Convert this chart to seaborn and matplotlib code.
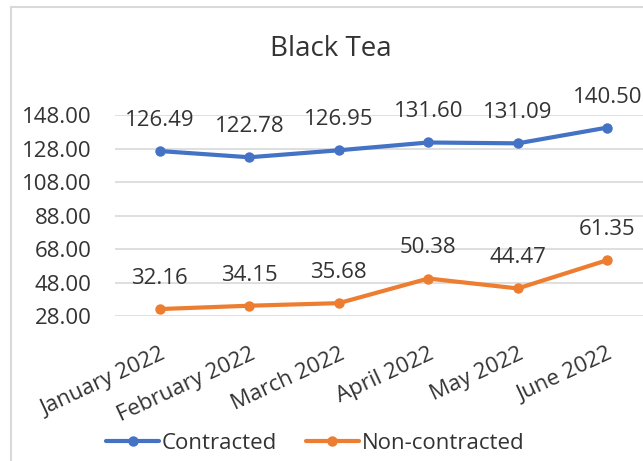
import matplotlib
matplotlib.use("Agg")
import matplotlib.pyplot as plt
import seaborn as sns
import pandas as pd
from matplotlib.patches import Rectangle

# Monthly black tea prices
months = ["January 2022", "February 2022", "March 2022",
          "April 2022", "May 2022", "June 2022"]
contracted = [126.49, 122.78, 126.95, 131.60, 131.09, 140.50]
non_contracted = [32.16, 34.15, 35.68, 50.38, 44.47, 61.35]
series_names = ["Contracted", "Non-contracted"]
y_ticks = [28, 48, 68, 88, 108, 128, 148]

BLUE = "#4472C4"
ORANGE = "#ED7D31"
TEXT = "#333333"
GRID = "#D9D9D9"

df = pd.DataFrame({
    "Month": months * 2,
    "Price": contracted + non_contracted,
    "Type": [series_names[0]] * len(months) + [series_names[1]] * len(months),
})

sns.set_theme(style="white")
plt.rcParams["font.family"] = ["Open Sans", "DejaVu Sans"]
plt.rcParams["text.color"] = TEXT

fig = plt.figure(figsize=(6.43, 4.61), dpi=100)
ax = fig.add_axes([0.179, 0.3145, 0.835, 0.436])

sns.lineplot(data=df, x="Month", y="Price", hue="Type",
             palette=[BLUE, ORANGE], marker="o", markersize=7.5,
             markeredgewidth=0, linewidth=3, sort=False, ax=ax)

# value labels above each point
for values in (contracted, non_contracted):
    for i, v in enumerate(values):
        ax.annotate(f"{v:.2f}", (i, v), xytext=(0, 22),
                    textcoords="offset points", ha="center", va="center",
                    fontsize=16, color=TEXT)

ax.set_xlim(-0.5, len(months) - 0.5)
ax.set_ylim(y_ticks[0], y_ticks[-1])
ax.set_yticks(y_ticks)
ax.set_yticklabels([f"{t:.2f}" for t in y_ticks])
ax.set_xlabel("")
ax.set_ylabel("")

ax.yaxis.grid(True, color=GRID, linewidth=1.2)
ax.set_axisbelow(True)
for s in ax.spines.values():
    s.set_visible(False)

ax.tick_params(axis="y", length=0, pad=17, labelsize=16, labelcolor=TEXT)
ax.tick_params(axis="x", length=0, pad=20, labelsize=16, labelcolor=TEXT)
for lab in ax.get_xticklabels():
    lab.set_rotation(25)
    lab.set_ha("right")
    lab.set_rotation_mode("anchor")

fig.text(0.515, 0.893, "Black Tea", ha="center", va="center",
         fontsize=20, color=TEXT)

sns.move_legend(ax, "center", bbox_to_anchor=(0.49, 0.039),
                bbox_transform=fig.transFigure, ncol=2, title=None,
                frameon=False, fontsize=16, handlelength=2.4,
                handletextpad=0.1, columnspacing=1.3)
for txt in ax.get_legend().get_texts():
    txt.set_color(TEXT)

# light chart-area border
fig.add_artist(Rectangle((11 / 643, -0.1), 1.2, 1 - 7 / 461 + 0.1,
                         transform=fig.transFigure, fill=False,
                         edgecolor=GRID, linewidth=1.5))

fig.savefig("out.png", dpi=100)
